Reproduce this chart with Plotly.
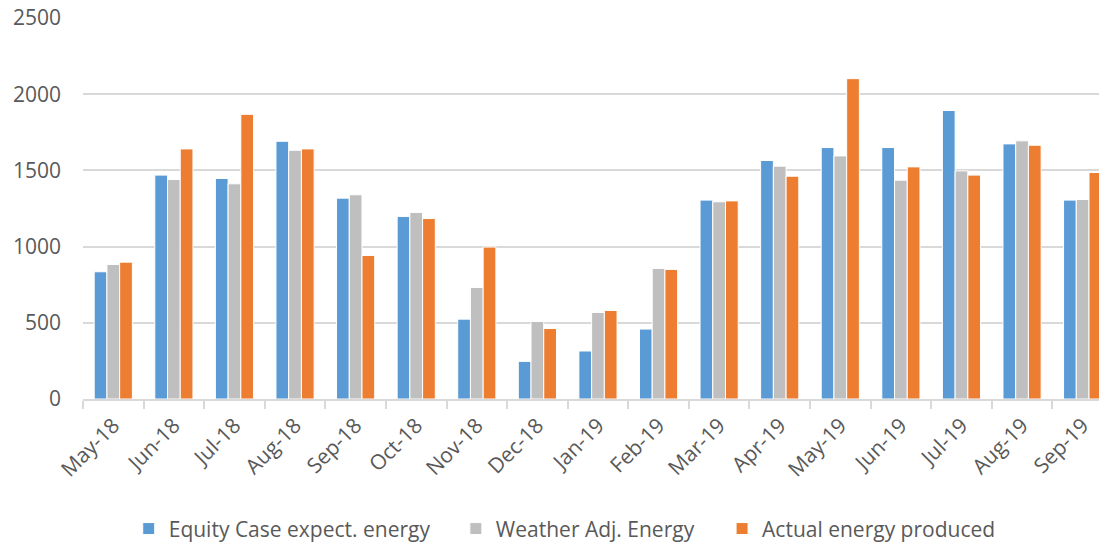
import plotly.graph_objects as go

months = ["May-18", "Jun-18", "Jul-18", "Aug-18", "Sep-18", "Oct-18", "Nov-18",
          "Dec-18", "Jan-19", "Feb-19", "Mar-19", "Apr-19", "May-19", "Jun-19",
          "Jul-19", "Aug-19", "Sep-19"]
equity_case = [835, 1469, 1447, 1691, 1318, 1198, 524, 247, 315, 459, 1305,
               1565, 1650, 1650, 1893, 1674, 1305]
weather_adj = [883, 1440, 1412, 1632, 1340, 1224, 732, 509, 568, 857, 1294,
               1528, 1595, 1436, 1497, 1694, 1309]
actual = [898, 1641, 1868, 1641, 942, 1184, 997, 463, 581, 850, 1300,
          1462, 2102, 1523, 1469, 1665, 1486]

# name, values, colour, legend id, legend x position (paper units)
series = [
    ("Equity Case expect. energy", equity_case, "#5B9BD5", "legend", 0.045),
    ("Weather Adj. Energy", weather_adj, "#BFBFBF", "legend2", 0.367),
    ("Actual energy produced", actual, "#ED7D31", "legend3", 0.629),
]

FONT = "Open Sans"
TXT = "#595959"
GRID = "#D9D9D9"
SIZE = 21

fig = go.Figure()
legends = {}
for name, vals, color, leg, lx in series:
    fig.add_trace(go.Bar(
        x=months, y=vals, name=name, legend=leg,
        marker=dict(color=color, line=dict(color="white", width=1)),
    ))
    legends[leg] = dict(orientation="h", x=lx, xanchor="left", y=-0.341,
                        yanchor="middle", font=dict(size=SIZE, color=TXT,
                                                    family=FONT),
                        bgcolor="rgba(0,0,0,0)")

fig.update_layout(
    width=1099, height=542,
    margin=dict(l=83, r=0, t=18, b=143, autoexpand=False),
    paper_bgcolor="white", plot_bgcolor="white",
    barmode="group", bargap=0.37, bargroupgap=0.0,
    font=dict(family=FONT, size=SIZE, color=TXT),
    showlegend=True,
    xaxis=dict(
        type="category", range=[-0.5, 16.27],
        tickangle=-45, tickfont=dict(size=SIZE, color=TXT),
        showline=True, linecolor=GRID, linewidth=2,
        ticks="outside", tickson="boundaries", ticklen=8,
        tickcolor=GRID, tickwidth=2, showgrid=False,
        ticklabelstandoff=4,
    ),
    yaxis=dict(
        range=[0, 2500], dtick=500, tickfont=dict(size=SIZE, color=TXT),
        showgrid=True, gridcolor=GRID, gridwidth=2,
        zeroline=False, ticks="", ticklabelstandoff=21,
    ),
    **legends,
)

fig.write_html("out.html")
